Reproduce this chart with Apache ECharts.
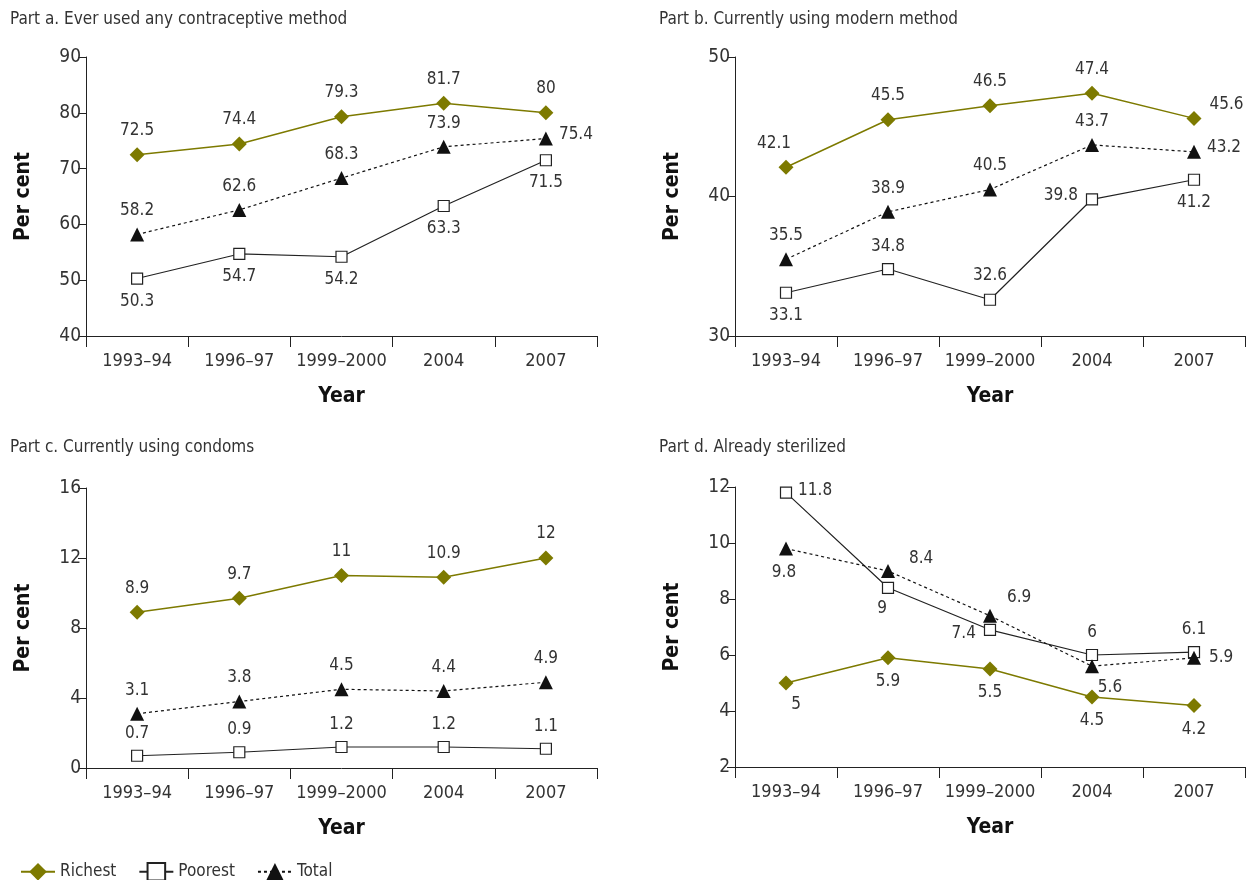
<!DOCTYPE html>
<html><head><meta charset="utf-8">
<script src="https://cdn.jsdelivr.net/npm/echarts@6/dist/echarts.min.js"></script>
<style>html,body{margin:0;padding:0;background:#fff}#c{width:1247px;height:880px}</style>
</head><body><div id="c"></div>
<script>
const years = ['1993–94','1996–97','1999–2000','2004','2007'];
const titles = ['Part a. Ever used any contraceptive method','Part b. Currently using modern method','Part c. Currently using condoms','Part d. Already sterilized'];

// Part a
const aRichest = [72.5, 74.4, 79.3, 81.7, 80];
const aPoorest = [50.3, 54.7, 54.2, 63.3, 71.5];
const aTotal   = [58.2, 62.6, 68.3, 73.9, 75.4];
// Part b
const bRichest = [42.1, 45.5, 46.5, 47.4, 45.6];
const bPoorest = [33.1, 34.8, 32.6, 39.8, 41.2];
const bTotal   = [35.5, 38.9, 40.5, 43.7, 43.2];
// Part c
const cRichest = [8.9, 9.7, 11, 10.9, 12];
const cPoorest = [0.7, 0.9, 1.2, 1.2, 1.1];
const cTotal   = [3.1, 3.8, 4.5, 4.4, 4.9];
// Part d (points as plotted; printed labels as in the source)
const dRichest = [5, 5.9, 5.5, 4.5, 4.2];
const dPoorest = [11.8, 8.4, 6.9, 6.0, 6.1];
const dTotal   = [9.8, 9.0, 7.4, 5.6, 5.9];
const dRichestLabels = ['5','5.9','5.5','4.5','4.2'];
const dPoorestLabels = ['11.8','9','7.4','6','6.1'];
const dTotalLabels   = ['9.8','8.4','6.9','5.6','5.9'];

const yTicksA = [40, 90, 10];
const yTicksB = [30, 50, 10];
const yTicksC = [0, 16, 4];
const yTicksD = [2, 12, 2];

const OLIVE = '#7d7a00';
const FONT = '"Liberation Sans Narrow","DejaVu Sans Condensed","Roboto Condensed",sans-serif';
const TXT = '#333';

const grids = [
  {left:86, top:57, width:511, height:279},
  {left:735, top:57, width:510, height:279},
  {left:86, top:488, width:511, height:280},
  {left:735, top:487, width:510, height:280}
];
const ticks = [yTicksA, yTicksB, yTicksC, yTicksD];

// label placements per panel/series: [position, dx, dy]
const T=['top',0,-2], B=['bottom',0,2], L=['left',-2,0], R=['right',2,0];
const place = {
  0:{r:[T,T,T,T,T], p:[B,B,B,B,B], t:[T,T,T,T,['right',0,-4]]},
  1:{r:[['top',-12,-2],T,T,T,['right',2,-14]], p:[B,T,['top',0,-4],['left',-2,-4],B], t:[T,T,T,T,['right',0,-4]]},
  2:{r:[T,T,T,T,T], p:[T,T,T,T,T], t:[T,T,T,T,T]},
  3:{r:[['bottom',10,0],B,B,B,B], p:[['right',0,-2],['bottom',-6,0],['left',-2,4],T,T], t:[['bottom',-2,2],['right',8,-12],['right',4,-18],['bottom',18,0],['right',2,0]]}
};

function mkData(vals, pl, labels){
  return vals.map((v,i)=>({value:v, label:{position:pl[i][0], offset:[pl[i][1],pl[i][2]], formatter: labels? labels[i] : String(v)}}));
}

const panels = [
  [aRichest,aPoorest,aTotal],[bRichest,bPoorest,bTotal],[cRichest,cPoorest,cTotal],[dRichest,dPoorest,dTotal]
];

const xAxis=[], yAxis=[], series=[], title=[];
grids.forEach((g,i)=>{
  title.push({text:titles[i], left: g.left<300?5:654, top: i<2?6:434, textStyle:{fontFamily:FONT,fontSize:17,fontWeight:'normal',color:TXT}});
  xAxis.push({type:'category', gridIndex:i, data:years, boundaryGap:true,
    name:'Year', nameLocation:'middle', nameGap:50,
    nameTextStyle:{fontFamily:FONT,fontSize:21,fontWeight:'bold',color:'#111'},
    axisLine:{lineStyle:{color:'#222',width:1}},
    axisTick:{show:true,length:11,alignWithLabel:false,lineStyle:{color:'#222'}},
    axisLabel:{fontFamily:FONT,fontSize:18,color:TXT,margin:16,interval:0}});
  const t=ticks[i];
  yAxis.push({type:'value', gridIndex:i, min:t[0], max:t[1], interval:t[2],
    name:'Per cent', nameLocation:'middle', nameGap:52, nameRotate:90,
    nameTextStyle:{fontFamily:FONT,fontSize:21,fontWeight:'bold',color:'#111'},
    axisLine:{show:true,lineStyle:{color:'#222',width:1}},
    axisTick:{show:true,length:8,lineStyle:{color:'#222'}},
    splitLine:{show:false},
    axisLabel:{fontFamily:FONT,fontSize:19,color:TXT,margin:5}});
  const pl=place[i];
  const [r,p,tt]=panels[i];
  const lab={show:true,fontFamily:FONT,fontSize:17,color:TXT,distance:6};
  series.push({name:'Richest',type:'line',xAxisIndex:i,yAxisIndex:i,data:mkData(r,pl.r,i===3?dRichestLabels:null),
    symbol:'diamond',symbolSize:15,itemStyle:{color:OLIVE},lineStyle:{color:OLIVE,width:1.5},label:lab,z:3});
  series.push({name:'Poorest',type:'line',xAxisIndex:i,yAxisIndex:i,data:mkData(p,pl.p,i===3?dPoorestLabels:null),
    symbol:'rect',symbolSize:11,itemStyle:{color:'#fff',borderColor:'#222',borderWidth:1.2},lineStyle:{color:'#222',width:1.2},label:lab,z:3});
  series.push({name:'Total',type:'line',xAxisIndex:i,yAxisIndex:i,data:mkData(tt,pl.t,i===3?dTotalLabels:null),
    symbol:'triangle',symbolSize:14,itemStyle:{color:'#111'},lineStyle:{color:'#111',width:1.2,type:[3,3]},label:lab,z:3});
});

const chart = echarts.init(document.getElementById('c'),null,{renderer:'canvas'});
chart.setOption({
  animation:false,
  backgroundColor:'#fff',
  title,
  grid:grids,
  xAxis, yAxis, series,
  legend:{left:15, top:857, itemWidth:34, itemHeight:22, itemGap:22,
    data:['Richest','Poorest','Total'],
    textStyle:{fontFamily:FONT,fontSize:17,color:TXT}}
});
</script></body></html>
